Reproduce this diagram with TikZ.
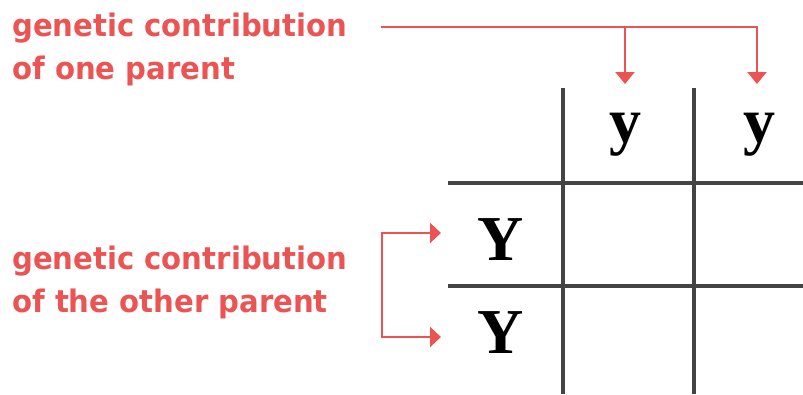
\documentclass[tikz,border=0pt]{standalone}
\usepackage{fontspec}
\setmainfont{Liberation Serif}
\newfontfamily\labfont[FakeStretch=0.94]{DejaVu Sans}
\usetikzlibrary{arrows.meta}
\definecolor{labred}{RGB}{236,84,84}
\definecolor{gridgray}{RGB}{68,68,68}
\tikzset{
  gridline/.style={draw=gridgray,line width=4.5pt},
  redline/.style={draw=labred,line width=2.2pt},
  redtip/.style={-{Triangle[width=19pt,length=12pt]}},
  lab/.style={text=labred,font=\labfont\bfseries\fontsize{31}{43}\selectfont,align=left,inner sep=0pt,anchor=north west},
  allele/.style={font=\bfseries\fontsize{64}{64}\selectfont,inner sep=0pt,anchor=base}
}
\begin{document}
\begin{tikzpicture}[x=1pt,y=-1pt]
\useasboundingbox (0,0) rectangle (803,394);
% grid
\coordinate (v1t) at (563,88); \coordinate (v1b) at (563,394);
\coordinate (v2t) at (694,88); \coordinate (v2b) at (694,394);
\coordinate (h1l) at (448,183); \coordinate (h1r) at (803,183);
\coordinate (h2l) at (448,286); \coordinate (h2r) at (803,286);
\draw[gridline] (v1t) -- (v1b);
\draw[gridline] (v2t) -- (v2b);
\draw[gridline] (h1l) -- (h1r);
\draw[gridline] (h2l) -- (h2r);
% alleles
\node[allele] (y1) at (625,142) {y};
\node[allele] (y2) at (759,142) {y};
\node[allele] (Y1) at (501,260) {Y};
\node[allele] (Y2) at (501,353) {Y};
% labels
\node[lab] (lab1) at (12,13) {genetic contribution\\of one parent};
\node[lab] (lab2) at (12,246) {genetic contribution\\of the other parent};
% top connector
\coordinate (s1) at (381,27);
\coordinate (j1) at (625,27);
\coordinate (t1) at (625,84);
\coordinate (t2) at (757,84);
\draw[redline,redtip] (s1) -| (t2);
\draw[redline,redtip] (j1) -- (t1);
% left bracket
\coordinate (a1) at (441,233);
\coordinate (a2) at (441,337);
\coordinate (b1) at (382,233);
\coordinate (b2) at (382,337);
\draw[redline,{Triangle[width=20pt,length=11pt]}-{Triangle[width=20pt,length=11pt]}] (a1) -- (b1) -- (b2) -- (a2);
\end{tikzpicture}
\end{document}
